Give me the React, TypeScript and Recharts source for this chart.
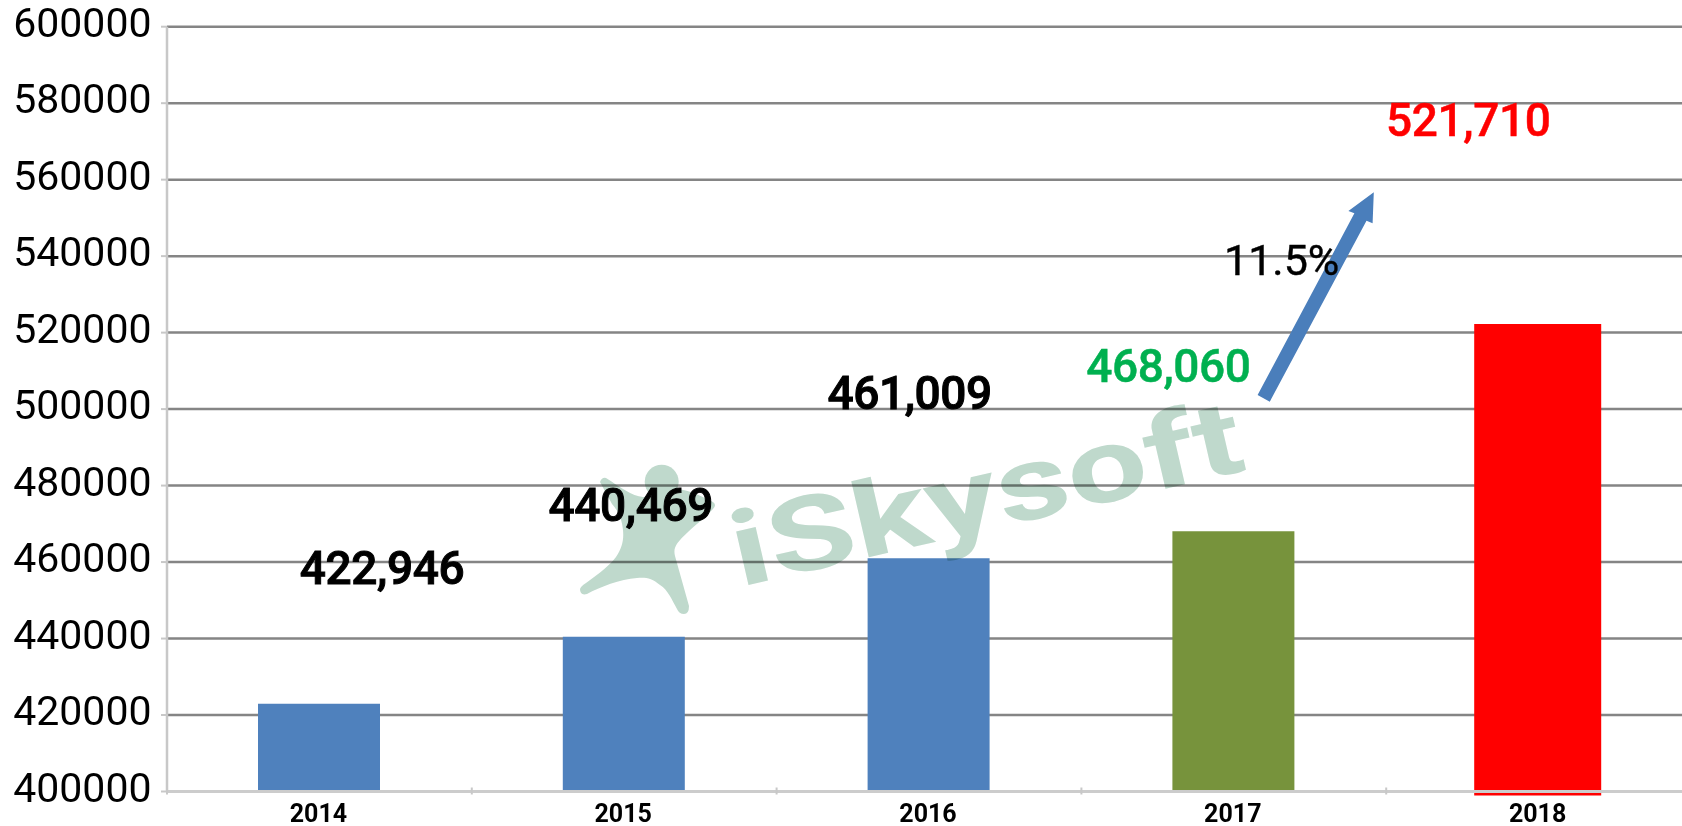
import React from 'react';
import { BarChart, Bar, XAxis, YAxis, CartesianGrid, Cell, LabelList, Rectangle } from 'recharts';

const years = ['2014', '2015', '2016', '2017', '2018'];
const sales = [422946, 440469, 461009, 468060, 521710];
const barColors = ['#4f81bd', '#4f81bd', '#4f81bd', '#77933c', '#ff0000'];
const labelColors = ['#000000', '#000000', '#000000', '#00b050', '#ff0000'];
const labelTexts = ['422,946', '440,469', '461,009', '468,060', '521,710'];
const labelStroke = [1, 1, 1, 0.5, 0.5];
const labelDx = [63, 7, -19, -65, -70];
const labelDy = [-120, -116, -149, -149, -190];
const yTicks = [400000, 420000, 440000, 460000, 480000, 500000, 520000, 540000, 560000, 580000, 600000];
const gridValues = yTicks.slice(1);

const data = years.map((year, i) => ({ year, sales: sales[i] }));

const W = 1691;
const H = 826;
const BAND = (W - 167) / years.length;

const YTick = (p: any) => (
  <text x={p.x - 1.5} y={p.y + 10} textAnchor="end" fontFamily="Roboto" fontSize={41} fill="#000">
    {p.payload.value}
  </text>
);

const XTick = (p: any) => (
  <g>
    <line x1={p.x - BAND / 2} x2={p.x - BAND / 2} y1={p.y - 12} y2={p.y - 5} stroke="#c8c8c8" strokeWidth={2} />
    <text x={p.x - 1} y={p.y + 22} textAnchor="middle" fontFamily="Roboto" fontWeight={700} fontSize={25} fill="#000">
      {p.payload.value}
    </text>
  </g>
);

const BarShape = (p: any) => {
  const last = p.index === years.length - 1;
  return (
    <Rectangle
      x={p.x - (last ? 3 : 0)}
      y={p.y - (last ? 2 : 0)}
      width={p.width + (last ? 5 : 0)}
      height={p.height + (last ? 6 : 0)}
      fill={p.fill}
    />
  );
};

const ValueLabel = (p: any) => {
  const i = p.index;
  return (
    <text
      x={p.x + p.width / 2 + labelDx[i]}
      y={p.y + labelDy[i]}
      textAnchor="middle"
      fontFamily="Roboto"
      fontWeight={500}
      fontSize={46}
      letterSpacing={-0.4}
      stroke={labelColors[i]}
      strokeWidth={labelStroke[i]}
      fill={labelColors[i]}
    >
      {labelTexts[i]}
    </text>
  );
};

export default function App() {
  return (
    <div style={{ position: 'fixed', left: 0, top: 0, width: 1682, height: 826, overflow: 'hidden', background: '#fff' }}>
      <BarChart
        width={W}
        height={H}
        data={data}
        margin={{ top: 26.7, right: 0, bottom: 0, left: 0 }}
        barCategoryGap={0}
      >
        <CartesianGrid horizontal vertical={false} stroke="#858585" strokeWidth={2.5} horizontalValues={gridValues} />
        <XAxis
          dataKey="year"
          height={34.5}
          interval={0}
          axisLine={{ stroke: '#cccccc', strokeWidth: 3 }}
          tickLine={false}
          tick={<XTick />}
        />
        <YAxis
          width={167}
          domain={[400000, 600000]}
          ticks={yTicks}
          interval={0}
          tickSize={6}
          tickMargin={8}
          axisLine={{ stroke: '#c8c8c8', strokeWidth: 2.5 }}
          tickLine={{ stroke: '#c8c8c8', strokeWidth: 2 }}
          tick={<YTick />}
        />
        <Bar dataKey="sales" barSize={122} isAnimationActive={false} shape={<BarShape />}>
          {data.map((d, i) => (
            <Cell key={d.year} fill={barColors[i]} />
          ))}
          <LabelList dataKey="sales" content={<ValueLabel />} />
        </Bar>
      </BarChart>
      <svg
        width={1682}
        height={826}
        style={{ position: 'absolute', left: 0, top: 0, mixBlendMode: 'multiply', pointerEvents: 'none' }}
      >
        <circle cx={661.7} cy={481.7} r={17} fill="#bfd9cc" />
        <path
          fill="#bfd9cc"
          d="M600,482 Q602,477 606,478 C620,487 632,496 643,497 C655,497 665,492 677,489 C690,490 703,497 713,502 Q717,505 713,509 C703,520 695,525 688,532 C676,543 673,548 675,556 L689,606 Q689,614 684,614 Q679,614 677,609 C672,600 668,590 660,585 C652,578 645,577 637,578 C620,579 600,587 587,594 Q580,596 580,589 Q581,586 586,583 C600,573 610,565 616,557 C622,548 624,540 623,530 C622,520 619,512 612,504 Z"
        />
        <text
          x={740}
          y={587}
          transform="rotate(-13 740 587)"
          fontFamily="Roboto"
          fontWeight={700}
          fontSize={104}
          fill="#bfd9cc"
          textLength={522}
          lengthAdjust="spacingAndGlyphs"
        >
          iSkysoft
        </text>
      </svg>
      <svg width={1682} height={826} style={{ position: 'absolute', left: 0, top: 0, pointerEvents: 'none' }}>
        <polygon
          fill="#4a7ebb"
          points="1257.6,395 1269.8,401.7 1366.5,220.7 1372.6,223.3 1373.8,192.3 1348.4,211 1354.4,213.3"
        />
        <text x={1224} y={275} fontFamily="Roboto" fontSize={43} stroke="#000" strokeWidth={0.4} fill="#000">
          11.5%
        </text>
      </svg>
    </div>
  );
}
